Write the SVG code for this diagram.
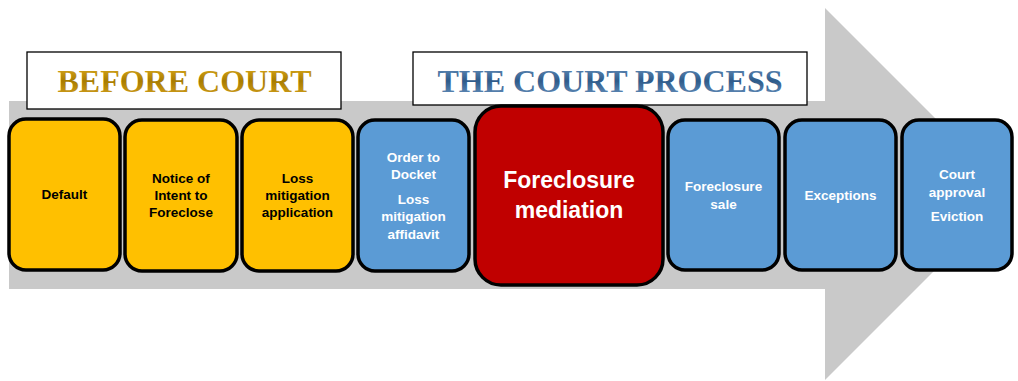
<svg xmlns="http://www.w3.org/2000/svg" width="1018" height="381" viewBox="0 0 1018 381">
<defs>
<linearGradient id="gold" x1="0" y1="0" x2="0" y2="1">
<stop offset="0" stop-color="#e6b422"/>
<stop offset="0.5" stop-color="#a87c00"/>
<stop offset="1" stop-color="#d9a520"/>
</linearGradient>
<linearGradient id="blue" x1="0" y1="0" x2="0" y2="1">
<stop offset="0" stop-color="#6f98c4"/>
<stop offset="0.5" stop-color="#2e5b8a"/>
<stop offset="1" stop-color="#6f98c4"/>
</linearGradient>
</defs>
<style>
.node{stroke:#000;stroke-width:3.5}
.y{fill:#ffc000}
.b{fill:#5b9bd5}
.r{fill:#c00000}
.t{font-family:"Liberation Sans",Arial,sans-serif;font-weight:bold;font-size:13.5px;text-anchor:middle}
.tb{fill:#000}
.tw{fill:#fff}
.title{font-family:"Liberation Serif","Times New Roman",serif;font-weight:bold;text-anchor:middle}
.tbox{fill:#fff;stroke:#000;stroke-width:1.3}
</style>
<g id="arrow">
<path d="M9 101 H825 V8 L1011 194 L825 380 V289 H9 Z" fill="#c9c9c9"/>
</g>
<g id="label-before">
<rect class="tbox" x="27" y="52" width="314" height="57"/>
<text class="title" x="184.5" y="92" font-size="32" fill="url(#gold)">BEFORE COURT</text>
</g>
<g id="label-court">
<rect class="tbox" x="413" y="52" width="394" height="53"/>
<text class="title" x="610" y="92" font-size="32" fill="url(#blue)">THE COURT PROCESS</text>
</g>
<g id="connectors"></g>
<g id="n1">
<rect class="node y" x="9" y="119" width="111" height="151" rx="17"/>
<text class="t tb" x="64.5" y="199">Default</text>
</g>
<g id="n2">
<rect class="node y" x="125" y="120" width="112" height="151" rx="17"/>
<text class="t tb" x="181" y="183">Notice of</text>
<text class="t tb" x="181" y="200">Intent to</text>
<text class="t tb" x="181" y="217">Foreclose</text>
</g>
<g id="n3">
<rect class="node y" x="242" y="120" width="111" height="151" rx="17"/>
<text class="t tb" x="297.5" y="183">Loss</text>
<text class="t tb" x="297.5" y="200">mitigation</text>
<text class="t tb" x="297.5" y="217">application</text>
</g>
<g id="n4">
<rect class="node b" x="358" y="120" width="111" height="151" rx="17"/>
<text class="t tw" x="413.5" y="162">Order to</text>
<text class="t tw" x="413.5" y="179">Docket</text>
<text class="t tw" x="413.5" y="204">Loss</text>
<text class="t tw" x="413.5" y="221">mitigation</text>
<text class="t tw" x="413.5" y="239">affidavit</text>
</g>
<g id="n5">
<rect class="node r" x="475" y="106" width="188" height="179" rx="26"/>
<text class="t tw" x="569" y="188" style="font-size:23px">Foreclosure</text>
<text class="t tw" x="569" y="218" style="font-size:23px">mediation</text>
</g>
<g id="n6">
<rect class="node b" x="668" y="120" width="111" height="150" rx="17"/>
<text class="t tw" x="723.5" y="191">Foreclosure</text>
<text class="t tw" x="723.5" y="209">sale</text>
</g>
<g id="n7">
<rect class="node b" x="785" y="120" width="111" height="150" rx="17"/>
<text class="t tw" x="840.5" y="200">Exceptions</text>
</g>
<g id="n8">
<rect class="node b" x="902" y="120" width="110" height="150" rx="17"/>
<text class="t tw" x="957" y="179">Court</text>
<text class="t tw" x="957" y="197">approval</text>
<text class="t tw" x="957" y="221">Eviction</text>
</g>
</svg>
